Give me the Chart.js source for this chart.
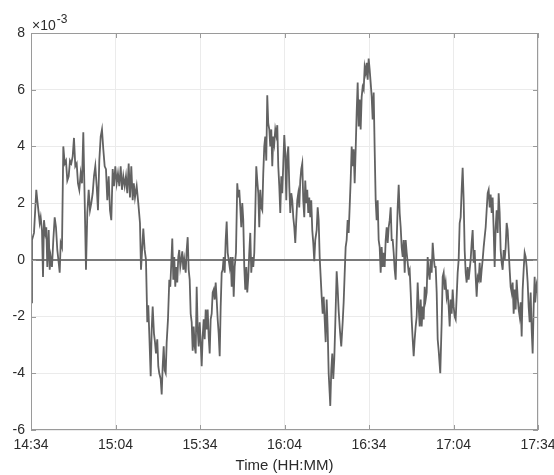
<!DOCTYPE html>
<html>
<head>
<meta charset="utf-8">
<script src="https://cdn.jsdelivr.net/npm/chart.js@4.4.1/dist/chart.umd.min.js"></script>
<style>
  html, body { margin: 0; padding: 0; background: #fff; }
  #wrap { width: 554px; height: 475px; }
</style>
</head>
<body>
<div id="wrap"><canvas id="signal" width="554" height="475"></canvas></div>
<script>
// minutes after 14:34
var times = [
  0,0.35,1.06,1.88,2.24,2.73,3.09,3.44,3.9,4.26,
  4.61,5.08,5.43,5.79,6.28,6.64,6.99,7.45,7.92,8.41,
  8.87,9.34,9.83,10.19,10.54,11.0,11.47,11.96,12.42,12.89,
  13.38,13.84,14.31,14.8,15.26,15.73,16.22,16.68,17.15,17.64,
  18.1,18.57,19.06,19.52,19.99,20.48,20.94,21.41,21.9,22.36,
  22.83,23.32,23.78,24.25,24.74,25.2,25.67,26.16,26.62,27.09,
  27.58,28.04,28.51,29.0,29.46,29.93,30.42,30.88,31.35,31.84,
  32.3,32.77,33.26,33.72,34.19,34.68,35.14,35.61,36.1,36.5,
  36.92,37.52,38.09,38.69,39.05,39.51,39.87,40.36,40.82,41.29,
  41.64,41.99,42.49,42.85,43.2,43.66,44.02,44.37,44.83,45.19,
  45.54,46.04,46.4,46.75,47.11,47.46,47.82,48.17,48.63,49.1,
  49.45,49.81,50.16,50.52,50.87,51.22,51.58,51.93,52.29,52.64,
  53.0,53.36,53.71,54.07,54.42,54.92,55.27,55.63,55.98,56.34,
  56.69,57.05,57.4,57.76,58.11,58.47,58.82,59.18,59.53,59.89,
  60.24,60.6,60.95,61.31,61.66,62.02,62.37,62.73,63.08,63.44,
  63.79,64.15,64.5,64.86,65.21,65.57,65.92,66.28,66.63,66.99,
  67.34,67.7,68.05,68.41,68.76,69.12,69.47,69.83,70.18,70.54,
  70.89,71.25,71.6,71.96,72.31,72.77,73.23,73.59,73.94,74.3,
  74.65,75.01,75.36,75.72,76.07,76.43,76.78,77.14,77.49,77.85,
  78.2,78.56,78.91,79.27,79.62,79.98,80.33,80.69,81.04,81.4,
  81.75,82.11,82.46,82.82,83.17,83.53,83.88,84.24,84.6,84.95,
  85.31,85.66,86.02,86.37,86.73,87.08,87.44,87.79,88.15,88.5,
  88.86,89.21,89.57,89.92,90.28,90.63,90.99,91.34,91.7,92.05,
  92.41,92.76,93.12,93.47,93.83,94.18,94.53,94.89,95.24,95.6,
  95.95,96.31,96.66,97.02,97.37,97.73,98.08,98.44,98.79,99.15,
  99.5,99.86,100.21,100.57,100.92,101.42,101.78,102.13,102.49,102.84,
  103.2,103.55,103.91,104.26,104.62,104.97,105.33,105.68,106.04,106.25,
  106.6,106.96,107.31,107.67,108.02,108.52,108.87,109.23,109.69,110.15,
  110.65,111.0,111.36,111.71,112.07,112.42,112.78,113.13,113.49,113.85,
  114.2,114.56,114.91,115.27,115.62,115.98,116.33,116.69,117.04,117.4,
  117.75,118.11,118.46,118.82,119.17,119.53,119.88,120.24,120.59,120.95,
  121.3,121.66,122.01,122.37,122.72,123.08,123.43,123.79,124.14,124.5,
  124.85,125.21,125.56,125.92,126.28,126.63,126.99,127.34,127.7,128.05,
  128.41,128.76,129.12,129.47,129.83,130.18,130.54,130.89,131.25,131.6,
  131.96,132.31,132.67,133.02,133.38,133.73,134.09,134.44,134.8,135.15,
  135.51,135.86,136.22,136.57,136.93,137.28,137.64,137.99,138.35,138.7,
  139.06,139.41,139.77,140.12,140.48,140.83,141.19,141.54,141.9,142.25,
  142.61,142.96,143.32,143.67,144.03,144.38,144.74,145.3,145.8,146.15,
  146.51,146.86,147.22,147.57,147.93,148.28,148.64,148.99,149.35,149.7,
  150.06,150.41,150.77,151.12,151.48,151.83,152.19,152.54,152.9,153.25,
  153.61,153.96,154.32,154.67,155.03,155.38,155.74,156.09,156.45,156.8,
  157.16,157.51,157.87,158.22,158.58,158.93,159.29,159.64,160.0,160.35,
  160.71,161.06,161.42,161.77,162.13,162.48,162.84,163.19,163.55,163.9,
  164.26,164.61,164.97,165.32,165.68,166.03,166.39,166.74,167.1,167.45,
  167.81,168.16,168.52,168.87,169.23,169.58,169.94,170.29,170.65,171.0,
  171.36,171.71,172.07,172.42,172.78,173.13,173.49,173.84,174.2,174.55,
  174.91,175.26,175.62,175.97,176.33,176.68,177.04,177.39,177.75,178.1,
  178.46,178.81,179.0,179.5,180
];

// signal, in units of 1e-3
var values = [
  -1.5,0.7,0.95,2.47,2.1,1.65,1.3,1.5,1.05,-0.6,
  1.4,0.95,1.15,-0.25,1.05,-0.35,0.1,-0.25,0.7,1.5,
  1.15,0.35,-0.1,-0.45,0.6,0.45,4.0,3.4,3.5,2.8,
  2.95,3.5,3.4,3.65,4.3,3.3,3.4,2.7,2.47,3.05,
  2.7,4.5,2.1,-0.35,1.65,2.47,1.75,2.0,2.35,2.95,
  3.3,2.6,1.75,3.5,4.35,4.6,3.9,3.3,3.2,2.1,
  2.95,1.75,1.4,3.2,2.6,3.3,2.7,3.05,2.6,3.3,
  2.47,2.95,2.6,2.95,2.35,3.4,2.2,3.3,2.1,2.7,
  2.2,2.6,2.0,1.3,-0.35,0.45,1.1,0.35,0.0,-2.2,
  -1.6,-2.6,-4.1,-2.45,-1.65,-2.6,-2.9,-3.3,-2.8,-3.75,
  -4.0,-4.2,-4.75,-3.75,-3.05,-3.9,-4.0,-2.9,-2.1,-0.7,
  -0.95,-0.1,0.75,-0.7,0.1,-0.95,-0.25,-0.8,0.1,0.35,
  -0.25,0.0,0.3,-0.35,0.0,-0.45,0.35,0.8,-0.35,-0.7,
  -1.9,-2.2,-3.2,-2.35,-3.05,-3.3,-0.95,-2.45,-3.05,-2.2,
  -2.9,-3.75,-2.7,-2.1,-2.8,-1.75,-2.45,-1.75,-2.7,-3.3,
  -2.1,-1.9,-1.15,-1.05,-1.4,-0.8,-1.4,-2.1,-2.6,-3.4,
  -1.65,-0.45,-0.35,0.1,-0.45,0.7,1.35,0.25,0.0,-0.25,
  0.1,-0.95,0.1,-1.3,-0.25,0.25,2.7,2.2,2.47,1.85,
  1.15,2.0,1.4,-0.25,-1.05,-0.25,-1.15,-0.6,0.25,0.95,
  -0.45,0.1,-0.25,0.25,1.65,3.3,2.8,2.35,1.15,2.47,
  1.85,1.75,3.05,4.0,4.35,3.5,5.8,4.8,4.6,4.0,
  4.6,3.3,4.35,4.1,4.6,4.4,4.75,3.3,2.6,1.65,
  2.95,2.35,3.4,4.4,3.75,2.1,3.65,4.0,2.6,1.65,
  2.35,2.1,1.5,1.15,0.6,1.4,2.1,2.35,1.85,2.8,
  3.2,3.4,2.1,1.5,2.8,2.0,2.47,1.65,2.2,1.5,
  2.1,1.05,0.6,-0.05,0.7,1.05,1.85,1.4,0.1,-0.6,
  -1.3,-1.9,-1.3,-2.1,-2.9,-1.4,-2.45,-4.0,-4.7,-5.15,
  -3.9,-3.3,-4.2,-3.5,-2.3,-0.4,-1.0,-1.8,-2.5,-3.05,
  -2.2,-1.5,-0.5,0.45,0.7,1.4,0.95,1.85,2.8,4.0,
  3.3,3.9,2.7,3.9,5.2,6.25,4.7,5.65,4.6,5.75,
  6.1,6.0,6.8,6.6,6.95,6.35,7.1,6.7,6.25,5.75,
  4.95,5.9,3.9,2.1,1.4,2.1,0.7,0.45,-0.45,0.45,
  -0.25,0.25,-0.25,0.7,1.15,0.6,1.15,1.4,1.85,0.7,
  0.7,0.25,-0.35,-0.7,0.7,1.85,2.65,1.65,1.15,0.45,
  0.1,0.7,-0.45,0.7,0.25,-0.1,-0.45,-0.35,-1.15,-2.1,
  -2.8,-3.4,-2.8,-2.35,-2.0,-0.8,-1.65,-2.35,-1.4,-2.35,
  -1.65,-2.1,-0.95,-1.4,-1.15,0.1,-0.45,-0.7,0.0,-0.45,
  0.6,0.1,-0.25,-0.25,-1.15,-2.8,-3.2,-4.0,-2.2,-0.6,
  -0.45,-1.05,-0.8,-1.3,-1.05,-1.65,-2.35,-1.4,-1.9,-1.05,
  -1.65,-2.0,-2.1,-1.3,-0.45,0.0,1.3,1.5,2.47,3.25,
  2.1,0.35,-0.45,-0.8,-0.25,-0.7,-0.35,0.0,0.6,1.05,
  -0.1,0.35,-0.6,-1.3,-0.6,-0.7,-0.1,-0.8,-0.35,0.0,
  0.45,0.8,1.15,1.75,2.35,2.47,1.85,2.3,1.65,2.2,
  1.05,-0.25,1.15,1.75,0.95,2.35,1.65,0.35,-0.1,-0.35,
  0.35,0.0,0.45,1.3,1.05,0.35,-0.35,-0.95,-1.15,-0.8,
  -1.9,-1.05,-1.75,-0.7,-1.3,-1.75,-2.0,-1.5,-2.7,-1.05,
  -0.35,0.25,0.1,-0.25,-0.8,-1.65,-2.2,-1.15,-2.45,-3.3,
  -1.65,-0.6,-1.5,-0.9,-1.2
];

var xTickLabels = ['14:34', '15:04', '15:34', '16:04', '16:34', '17:04', '17:34'];
var yMin = -6, yMax = 8;

var n = Math.min(times.length, values.length);
var points = [];
for (var i = 0; i < n; i++) points.push({x: times[i], y: values[i]});

Chart.defaults.font.family = '"Liberation Sans", Arial, Helvetica, sans-serif';
Chart.defaults.color = '#2b2b2b';

// box around the axes, inward tick marks and the x10^-3 multiplier
var frame = {
  id: 'frame',
  afterDraw: function(chart) {
    var ctx = chart.ctx, a = chart.chartArea;
    var sx = chart.scales.x, sy = chart.scales.y;
    ctx.save();
    ctx.strokeStyle = '#9a9a9a';
    ctx.lineWidth = 1;
    ctx.strokeRect(a.left + 0.5, a.top + 0.5, a.right - a.left - 1, a.bottom - a.top - 1);
    ctx.beginPath();
    sx.ticks.forEach(function(t) {
      var px = Math.round(sx.getPixelForValue(t.value)) + 0.5;
      ctx.moveTo(px, a.bottom); ctx.lineTo(px, a.bottom - 5);
      ctx.moveTo(px, a.top); ctx.lineTo(px, a.top + 5);
    });
    sy.ticks.forEach(function(t) {
      var py = Math.round(sy.getPixelForValue(t.value)) + 0.5;
      ctx.moveTo(a.left, py); ctx.lineTo(a.left + 5, py);
      ctx.moveTo(a.right, py); ctx.lineTo(a.right - 5, py);
    });
    ctx.stroke();
    ctx.fillStyle = '#2b2b2b';
    ctx.textBaseline = 'alphabetic';
    ctx.textAlign = 'left';
    ctx.font = '14px "Liberation Sans", Arial, sans-serif';
    ctx.fillText('\u00d710', a.left + 1, a.top - 3);
    var w = ctx.measureText('\u00d710').width;
    ctx.font = '12px "Liberation Sans", Arial, sans-serif';
    ctx.fillText('-3', a.left + 1 + w + 1, a.top - 10);
    ctx.restore();
  }
};

new Chart(document.getElementById('signal').getContext('2d'), {
  type: 'line',
  data: {
    datasets: [{
      data: points,
      borderColor: '#626262',
      borderWidth: 1.8,
      pointRadius: 0,
      tension: 0,
      fill: false
    }]
  },
  options: {
    responsive: false,
    animation: false,
    layout: { padding: { left: 0, right: 16, top: 33, bottom: 0 } },
    plugins: { legend: { display: false }, tooltip: { enabled: false } },
    scales: {
      x: {
        type: 'linear',
        min: 0,
        max: 180,
        afterFit: function(s) { s.height = 45; s.paddingLeft = 0; s.paddingRight = 0; },
        grid: { color: '#ebebeb', drawTicks: false },
        border: { display: false },
        ticks: {
          stepSize: 30,
          autoSkip: false,
          maxRotation: 0,
          padding: 7,
          font: { size: 14 },
          callback: function(v, i) { return xTickLabels[i]; }
        },
        title: { display: true, text: 'Time (HH:MM)', font: { size: 15 }, padding: { top: 1, bottom: 0 } }
      },
      y: {
        min: yMin,
        max: yMax,
        afterFit: function(s) { s.width = 31; },
        grid: {
          drawTicks: false,
          color: function(c) { return c.tick && c.tick.value === 0 ? '#7a7a7a' : '#ebebeb'; },
          lineWidth: function(c) { return c.tick && c.tick.value === 0 ? 2 : 1; }
        },
        border: { display: false },
        ticks: { stepSize: 2, padding: 6, font: { size: 14 } }
      }
    }
  },
  plugins: [frame]
});
</script>
</body>
</html>
